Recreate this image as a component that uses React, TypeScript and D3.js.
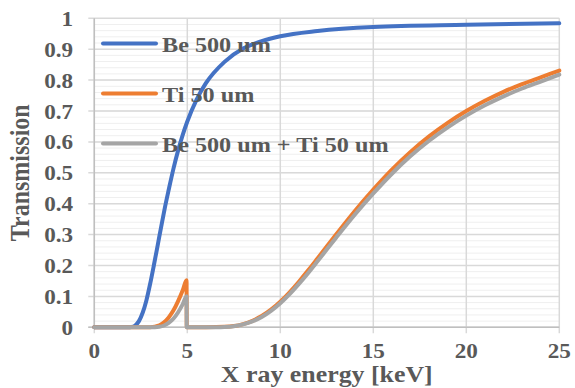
import React from "react";
import * as d3 from "d3";

// ---- data ----
const beEnergy = [0, 1, 1.8, 2, 2.2, 2.4, 2.6, 2.8, 3, 3.2, 3.4, 3.6, 3.8, 4, 4.25, 4.5, 4.75, 5, 5.5, 6, 7, 8, 9, 10, 12, 15, 20, 25];
const beTrans = [0, 0, 0, 0.001, 0.006, 0.02, 0.047, 0.087, 0.14, 0.2, 0.263, 0.327, 0.389, 0.445, 0.512, 0.571, 0.622, 0.666, 0.737, 0.79, 0.859, 0.902, 0.926, 0.942, 0.959, 0.972, 0.979, 0.984];

const tiEnergy = [0, 2, 3, 3.5, 3.75, 4, 4.25, 4.5, 4.75, 4.96, 4.97, 5.5, 6, 7, 7.5, 8, 8.5, 9, 9.5, 10, 10.5, 11, 11.5, 12, 13, 14, 15, 16, 17, 18, 19, 20, 21, 22, 23, 24, 25];
const tiTrans = [0, 0, 0.0005, 0.0067, 0.016, 0.032, 0.054, 0.084, 0.119, 0.152, 0, 0, 0.0001, 0.0015, 0.004, 0.0105, 0.0209, 0.0363, 0.057, 0.0826, 0.1133, 0.1476, 0.1843, 0.2226, 0.3004, 0.3758, 0.4457, 0.5103, 0.5676, 0.6179, 0.6617, 0.6997, 0.733, 0.762, 0.787, 0.809, 0.831];
const bothTrans = [0, 0, 0.0001, 0.002, 0.0058, 0.0142, 0.0276, 0.048, 0.074, 0.1006, 0, 0, 0.0001, 0.0013, 0.0035, 0.0095, 0.0191, 0.0336, 0.0533, 0.0778, 0.1072, 0.1404, 0.176, 0.2135, 0.2899, 0.3641, 0.4332, 0.497, 0.554, 0.6037, 0.6471, 0.685, 0.7183, 0.7475, 0.7728, 0.7952, 0.8177];

const seriesNames = ["Be 500 um", "Ti 50 um", "Be 500 um + Ti 50 um"];
const seriesColors = ["#4472C4", "#ED7D31", "#A5A5A5"];
const xTicks = [0, 5, 10, 15, 20, 25];
const yTicks = [0, 0.1, 0.2, 0.3, 0.4, 0.5, 0.6, 0.7, 0.8, 0.9, 1];
const yMinorTicks = d3.range(0, 50).map((i) => i * 0.02);
const xTitle = "X ray energy [keV]";
const yTitle = "Transmission";

const W = 575;
const H = 388;
const M = { left: 94.3, right: 575 - 559.3, top: 18.3, bottom: 388 - 327.3 };
const FONT = "'Liberation Serif', 'Times New Roman', serif";
const TXT = "#595959";
const SX = 1.1;

export default function App() {
  const x = d3.scaleLinear().domain([0, 25]).range([M.left, W - M.right]);
  const y = d3.scaleLinear().domain([0, 1]).range([H - M.bottom, M.top]);
  const line = d3
    .line<[number, number]>()
    .x((d) => x(d[0]))
    .y((d) => y(d[1]))
    .curve(d3.curveMonotoneX);

  const series = [
    d3.zip(beEnergy, beTrans) as [number, number][],
    d3.zip(tiEnergy, tiTrans) as [number, number][],
    d3.zip(tiEnergy, bothTrans) as [number, number][],
  ];

  const x0 = x(0);
  const x1 = x(25);
  const y0 = y(0);
  const y1 = y(1);

  const stretched = (tx: number, ty: number, content: string, size: number, anchor: string, key?: string, sx: number = SX) => (
    <text
      key={key}
      transform={`translate(${tx},${ty}) scale(${sx},1)`}
      textAnchor={anchor}
      fontFamily={FONT}
      fontWeight="bold"
      fontSize={size}
      fill={TXT}
    >
      {content}
    </text>
  );

  return (
    <svg width={W} height={H} style={{ position: "absolute", left: 0, top: 0, background: "#fff" }}>
      {/* minor horizontal grid */}
      {yMinorTicks.map((t) => (
        <line key={"mn" + t} x1={x0} x2={x1} y1={y(t)} y2={y(t)} stroke="#efefef" strokeWidth={1} />
      ))}
      {/* major horizontal grid */}
      {yTicks.map((t) => (
        <line key={"mj" + t} x1={x0 - 6} x2={x1} y1={y(t)} y2={y(t)} stroke="#d9d9d9" strokeWidth={1.5} />
      ))}
      {/* vertical grid */}
      {xTicks.map((t) => (
        <line key={"vx" + t} x1={x(t)} x2={x(t)} y1={y1} y2={y0 + 6} stroke="#d9d9d9" strokeWidth={1.5} />
      ))}
      {/* axes */}
      <line x1={x0} x2={x0} y1={y1} y2={y0} stroke="#bfbfbf" strokeWidth={1.5} />
      <line x1={x0 - 6} x2={x1} y1={y0} y2={y0} stroke="#bfbfbf" strokeWidth={1.5} />

      {/* series */}
      {series.map((s, i) => (
        <path key={"s" + i} d={line(s) || ""} fill="none" stroke={seriesColors[i]} strokeWidth={4} strokeLinejoin="round" strokeLinecap="round" />
      ))}

      {/* y tick labels */}
      {yTicks.map((t) => stretched(73, y(t) + 7.5, d3.format("~g")(t), 21, "end", "yl" + t))}
      {/* x tick labels */}
      {xTicks.map((t) => stretched(x(t), 357.5, String(t), 20.5, "middle", "xl" + t, 1.13))}

      {/* legend */}
      {seriesNames.map((n, i) => (
        <g key={"lg" + i}>
          <line x1={103} x2={156} y1={43.5 + i * 50} y2={43.5 + i * 50} stroke={seriesColors[i]} strokeWidth={4} strokeLinecap="round" />
          {stretched(162, 51.5 + i * 50, n, 22, "start")}
        </g>
      ))}

      {/* axis titles */}
      {stretched((x0 + x1) / 2, 382.3, xTitle, 22.5, "middle", undefined, 1.15)}
      <text
        transform={`translate(28.5,${(y0 + y1) / 2}) rotate(-90) scale(1,${SX})`}
        textAnchor="middle"
        fontFamily={FONT}
        fontWeight="bold"
        fontSize={24}
        fill={TXT}
      >
        {yTitle}
      </text>
    </svg>
  );
}
